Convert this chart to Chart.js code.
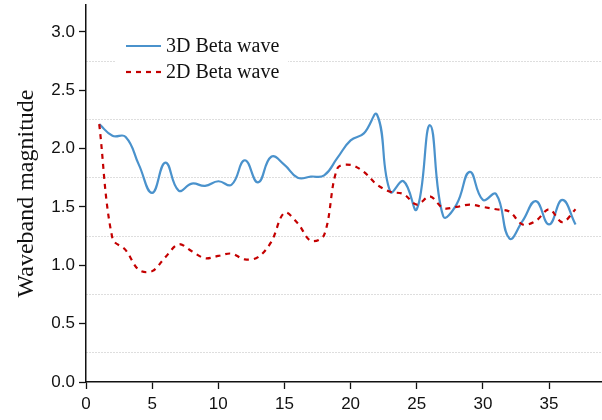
<!DOCTYPE html>
<html>
<head>
<meta charset="utf-8">
<script src="https://cdn.jsdelivr.net/npm/chart.js@4"></script>
<style>
  html, body { margin: 0; padding: 0; background: #fff; }
  #wrap { width: 602px; height: 420px; position: relative; }
</style>
</head>
<body>
<div id="wrap"><canvas id="graph"></canvas></div>
<script>
const xValues = [1, 2, 3, 4, 5, 6, 7, 8, 9, 10, 11, 12, 13, 14, 15, 16, 17, 18, 19, 20,
                 21, 22, 23, 24, 25, 26, 27, 28, 29, 30, 31, 32, 33, 34, 35, 36, 37];
const wave3D = [2.21, 2.11, 2.10, 1.86, 1.62, 1.88, 1.64, 1.70, 1.68, 1.72,
                1.69, 1.90, 1.71, 1.93, 1.86, 1.75, 1.76, 1.77, 1.92, 2.07,
                2.13, 2.29, 1.63, 1.72, 1.48, 2.20, 1.42, 1.52, 1.80, 1.56,
                1.61, 1.23, 1.38, 1.55, 1.35, 1.56, 1.35];
const wave2D = [2.21, 1.23, 1.13, 0.96, 0.95, 1.07, 1.18, 1.12, 1.06, 1.08,
                1.10, 1.05, 1.07, 1.20, 1.45, 1.36, 1.21, 1.26, 1.83, 1.86,
                1.80, 1.69, 1.63, 1.61, 1.52, 1.59, 1.49, 1.50, 1.52, 1.50,
                1.48, 1.46, 1.35, 1.38, 1.48, 1.37, 1.48];
const seriesLabels = ["3D Beta wave", "2D Beta wave"];
const yTitle = "Waveband magnitude";

const toPoints = (vals) => vals.map((v, i) => ({ x: xValues[i], y: v }));
const isMajor = (v) => Math.abs(v * 2 - Math.round(v * 2)) < 1e-6;

// legende dessinee dans la zone du graphe, fond blanc
const legendInside = {
  id: "legendInside",
  afterDraw(chart) {
    const c = chart.ctx;
    c.save();
    c.fillStyle = "#fff";
    c.fillRect(115, 30, 173, 56);
    c.font = "20px 'Liberation Serif'";
    c.textBaseline = "middle";
    c.fillStyle = "#111";
    chart.data.datasets.forEach((ds, i) => {
      const y = 46 + i * 26;
      c.strokeStyle = ds.borderColor;
      c.lineWidth = ds.borderWidth;
      c.setLineDash(ds.borderDash || []);
      c.beginPath();
      c.moveTo(126, y);
      c.lineTo(161, y);
      c.stroke();
      c.fillText(ds.label, 166, y + 1);
    });
    c.restore();
  }
};

const tickFont = { family: "'Liberation Sans', Arial", size: 17 };

new Chart(document.getElementById("graph"), {
  type: "line",
  data: {
    datasets: [
      {
        label: seriesLabels[0],
        data: toPoints(wave3D),
        borderColor: "#4a92cc",
        borderWidth: 2.2,
        pointRadius: 0,
        tension: 0.45,
        fill: false,
        order: 1,
      },
      {
        label: seriesLabels[1],
        data: toPoints(wave2D),
        borderColor: "#c40000",
        borderWidth: 2.2,
        borderDash: [5, 5],
        pointRadius: 0,
        tension: 0.35,
        fill: false,
        order: 0,
      }
    ]
  },
  options: {
    responsive: true,
    maintainAspectRatio: false,
    animation: false,
    layout: { padding: { top: 5, right: 0, left: 0, bottom: 0 } },
    plugins: {
      legend: { display: false },
      tooltip: { enabled: false }
    },
    scales: {
      x: {
        type: "linear",
        min: 0,
        max: 39,
        afterFit: (scale) => {
          scale.height = 38;
          scale.paddingLeft = 0;
          scale.paddingRight = 0;
        },
        ticks: {
          stepSize: 5,
          includeBounds: false,
          color: "#111",
          font: tickFont,
          padding: 5,
          maxRotation: 0,
        },
        grid: {
          drawOnChartArea: false,
          tickColor: "#111",
          tickLength: 7,
          tickWidth: 1.3,
        },
        border: { color: "#111", width: 1.5 }
      },
      y: {
        min: 0,
        max: 3.23,
        afterFit: (scale) => {
          scale.width = 86;
          scale.paddingTop = 0;
          scale.paddingBottom = 0;
        },
        ticks: {
          stepSize: 0.25,
          includeBounds: false,
          color: "#111",
          font: tickFont,
          padding: 4,
          autoSkip: false,
          callback: (val) => isMajor(val) ? val.toFixed(1) : "",
        },
        grid: {
          color: (ctx) => isMajor(ctx.tick.value) ? "rgba(0,0,0,0)" : "#bdbdbd",
          lineWidth: 1,
          tickColor: (ctx) => isMajor(ctx.tick.value) ? "#111" : "rgba(0,0,0,0)",
          tickLength: 7,
          tickWidth: 1.3,
        },
        border: { color: "#111", width: 1.5, dash: [1, 2] },
        title: {
          display: true,
          text: yTitle,
          color: "#111",
          font: { family: "'Liberation Serif', 'Times New Roman'", size: 24 },
          padding: { top: 12, bottom: 0 },
        }
      }
    }
  },
  plugins: [legendInside]
});
</script>
</body>
</html>
